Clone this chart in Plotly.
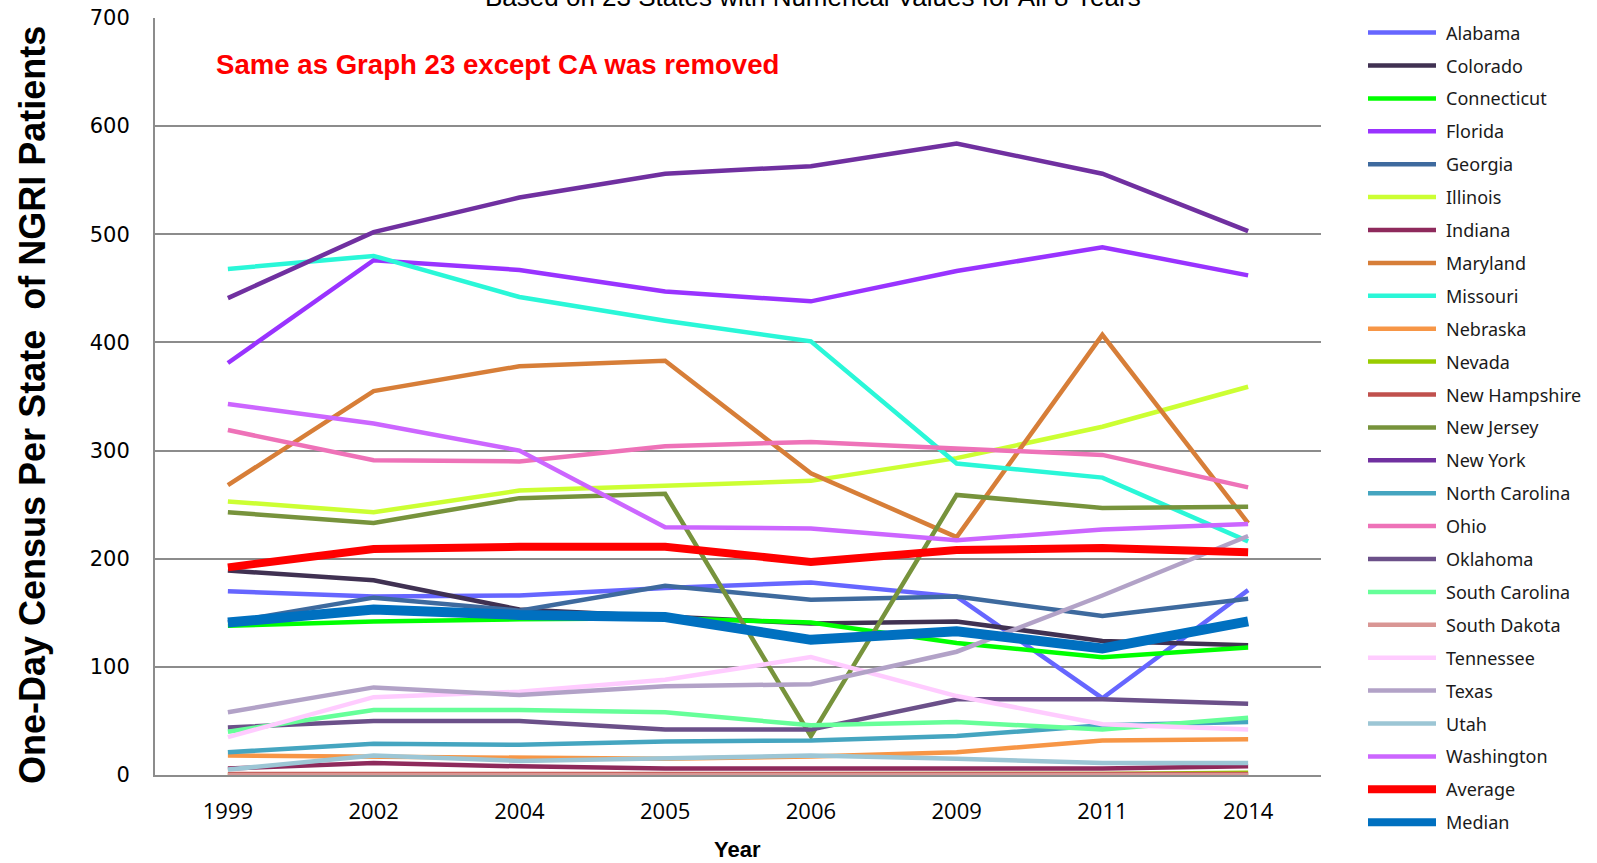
import plotly.graph_objects as go

years = ['1999', '2002', '2004', '2005', '2006', '2009', '2011', '2014']

alabama = [170, 165, 166, 173, 178, 165, 71, 171]
colorado = [189, 180, 153, 146, 140, 142, 124, 120]
connecticut = [138, 142, 144, 145, 141, 122, 109, 118]
florida = [381, 476, 467, 447, 438, 466, 488, 462]
georgia = [141, 164, 152, 175, 162, 165, 147, 163]
illinois = [253, 243, 263, 268, 272, 293, 322, 359]
indiana = [6, 11, 8, 6, 6, 6, 6, 8]
maryland = [268, 355, 378, 383, 279, 220, 407, 233]
missouri = [468, 480, 442, 420, 401, 288, 275, 216]
nebraska = [18, 17, 15, 15, 17, 21, 32, 33]
nevada = [0, 0, 0, 0, 1, 1, 1, 2]
new_hampshire = [1, 1, 1, 1, 1, 1, 1, 1]
new_jersey = [243, 233, 256, 260, 36, 259, 247, 248]
new_york = [441, 502, 534, 556, 563, 584, 556, 503]
north_carolina = [21, 29, 28, 31, 32, 36, 46, 49]
ohio = [319, 291, 290, 304, 308, 302, 296, 266]
oklahoma = [44, 50, 50, 42, 42, 70, 70, 66]
south_carolina = [40, 60, 60, 58, 46, 49, 42, 53]
south_dakota = [0, 0, 0, 0, 0, 0, 0, 0]
tennessee = [35, 72, 77, 88, 109, 73, 47, 42]
texas = [58, 81, 74, 82, 84, 114, 166, 221]
utah = [5, 18, 13, 15, 18, 15, 11, 11]
washington = [343, 325, 300, 229, 228, 217, 227, 232]
average = [192, 209, 211, 211, 197, 208, 210, 206]
median = [141, 153, 148, 146, 125, 133, 117, 142]

series = [
    ('Alabama', alabama, '#6666FF', 4.5),
    ('Colorado', colorado, '#403152', 4.5),
    ('Connecticut', connecticut, '#00FF00', 4.5),
    ('Florida', florida, '#9933FF', 4.5),
    ('Georgia', georgia, '#3E6A9E', 4.5),
    ('Illinois', illinois, '#CCFF33', 4.5),
    ('Indiana', indiana, '#8E2A5C', 4.5),
    ('Maryland', maryland, '#D77E38', 4.5),
    ('Missouri', missouri, '#2AF7D8', 4.5),
    ('Nebraska', nebraska, '#F79646', 4.5),
    ('Nevada', nevada, '#99CC00', 4.5),
    ('New Hampshire', new_hampshire, '#C0504D', 4.5),
    ('New Jersey', new_jersey, '#77933C', 4.5),
    ('New York', new_york, '#7030A0', 4.5),
    ('North Carolina', north_carolina, '#45A5C0', 4.5),
    ('Ohio', ohio, '#EE72B8', 4.5),
    ('Oklahoma', oklahoma, '#6B5089', 4.5),
    ('South Carolina', south_carolina, '#66FF99', 4.5),
    ('South Dakota', south_dakota, '#D99694', 4.5),
    ('Tennessee', tennessee, '#FFCCFF', 4.5),
    ('Texas', texas, '#B2A2C7', 4.5),
    ('Utah', utah, '#9CC6D5', 4.5),
    ('Washington', washington, '#CC66FF', 4.5),
    ('Average', average, '#FF0000', 8),
    ('Median', median, '#0070C0', 10),
]

W, H = 1597, 863
ML, MR, MT, MB = 155, 276, 18, 88
PW = W - ML - MR
PH = H - MT - MB

def px_x(x):
    return (x - ML) / PW

def px_y(y):
    return (H - MB - y) / PH

fig = go.Figure()
for name, vals, color, width in series:
    fig.add_trace(go.Scatter(x=years, y=vals, mode='lines', name=name,
                             line=dict(color=color, width=width),
                             showlegend=False))

bold_font = 'Liberation Sans'

shapes = []
annotations = []
# custom legend
for i, (name, vals, color, width) in enumerate(series):
    yc = 32.6 + i * 32.9
    lw = 4.5 if width < 6 else 8
    shapes.append(dict(type='line', xref='paper', yref='paper',
                       x0=px_x(1368), x1=px_x(1436), y0=px_y(yc), y1=px_y(yc),
                       line=dict(color=color, width=lw)))
    annotations.append(dict(xref='paper', yref='paper', x=px_x(1444), y=px_y(yc),
                            xanchor='left', yanchor='middle', showarrow=False,
                            text=name, font=dict(family='Noto Sans', size=18, color='#1a1a1a')))

annotations.append(dict(xref='paper', yref='paper', x=px_x(813), y=px_y(-3),
                        xanchor='center', yanchor='middle', showarrow=False,
                        text='Based on 23 States with Numerical Values for All 8 Years',
                        font=dict(family='Liberation Sans', size=26, color='#000000')))
annotations.append(dict(xref='paper', yref='paper', x=px_x(497), y=px_y(65),
                        xanchor='center', yanchor='middle', showarrow=False,
                        text='<b>Same as Graph 23 except CA was removed</b>',
                        font=dict(family=bold_font, size=27.6, color='#FF0000')))
annotations.append(dict(xref='paper', yref='paper', x=px_x(32), y=px_y(405),
                        xanchor='center', yanchor='middle', showarrow=False, textangle=-90,
                        text='<b>One-Day Census Per State \u00a0of NGRI Patients</b>',
                        font=dict(family=bold_font, size=36, color='#000000')))
annotations.append(dict(xref='paper', yref='paper', x=px_x(737), y=px_y(849),
                        xanchor='center', yanchor='middle', showarrow=False,
                        text='<b>Year</b>',
                        font=dict(family='Liberation Sans', size=22, color='#000000')))

fig.update_layout(
    width=W, height=H,
    margin=dict(l=ML, r=MR, t=MT, b=MB, pad=0),
    paper_bgcolor='white', plot_bgcolor='white',
    showlegend=False,
    shapes=shapes,
    annotations=annotations,
    xaxis=dict(type='category', range=[-0.5, 7.5], showgrid=False, zeroline=False,
               showline=True, linecolor='#8C8C8C', linewidth=2, ticks='', automargin=False,
               tickfont=dict(family='Open Sans', size=22, color='#000000'),
               ticklabelstandoff=16),
    yaxis=dict(range=[0, 700], dtick=100, showgrid=True, gridcolor='#8C8C8C', gridwidth=1.5,
               zeroline=False, showline=True, linecolor='#8C8C8C', linewidth=2, ticks='',
               automargin=False,
               tickfont=dict(family='DejaVu Sans', size=21, color='#000000'),
               ticklabelstandoff=19),
)

fig.write_html('out.html', config={'displayModeBar': False},
               post_script="document.body.style.margin='0';document.body.style.overflow='hidden';")
